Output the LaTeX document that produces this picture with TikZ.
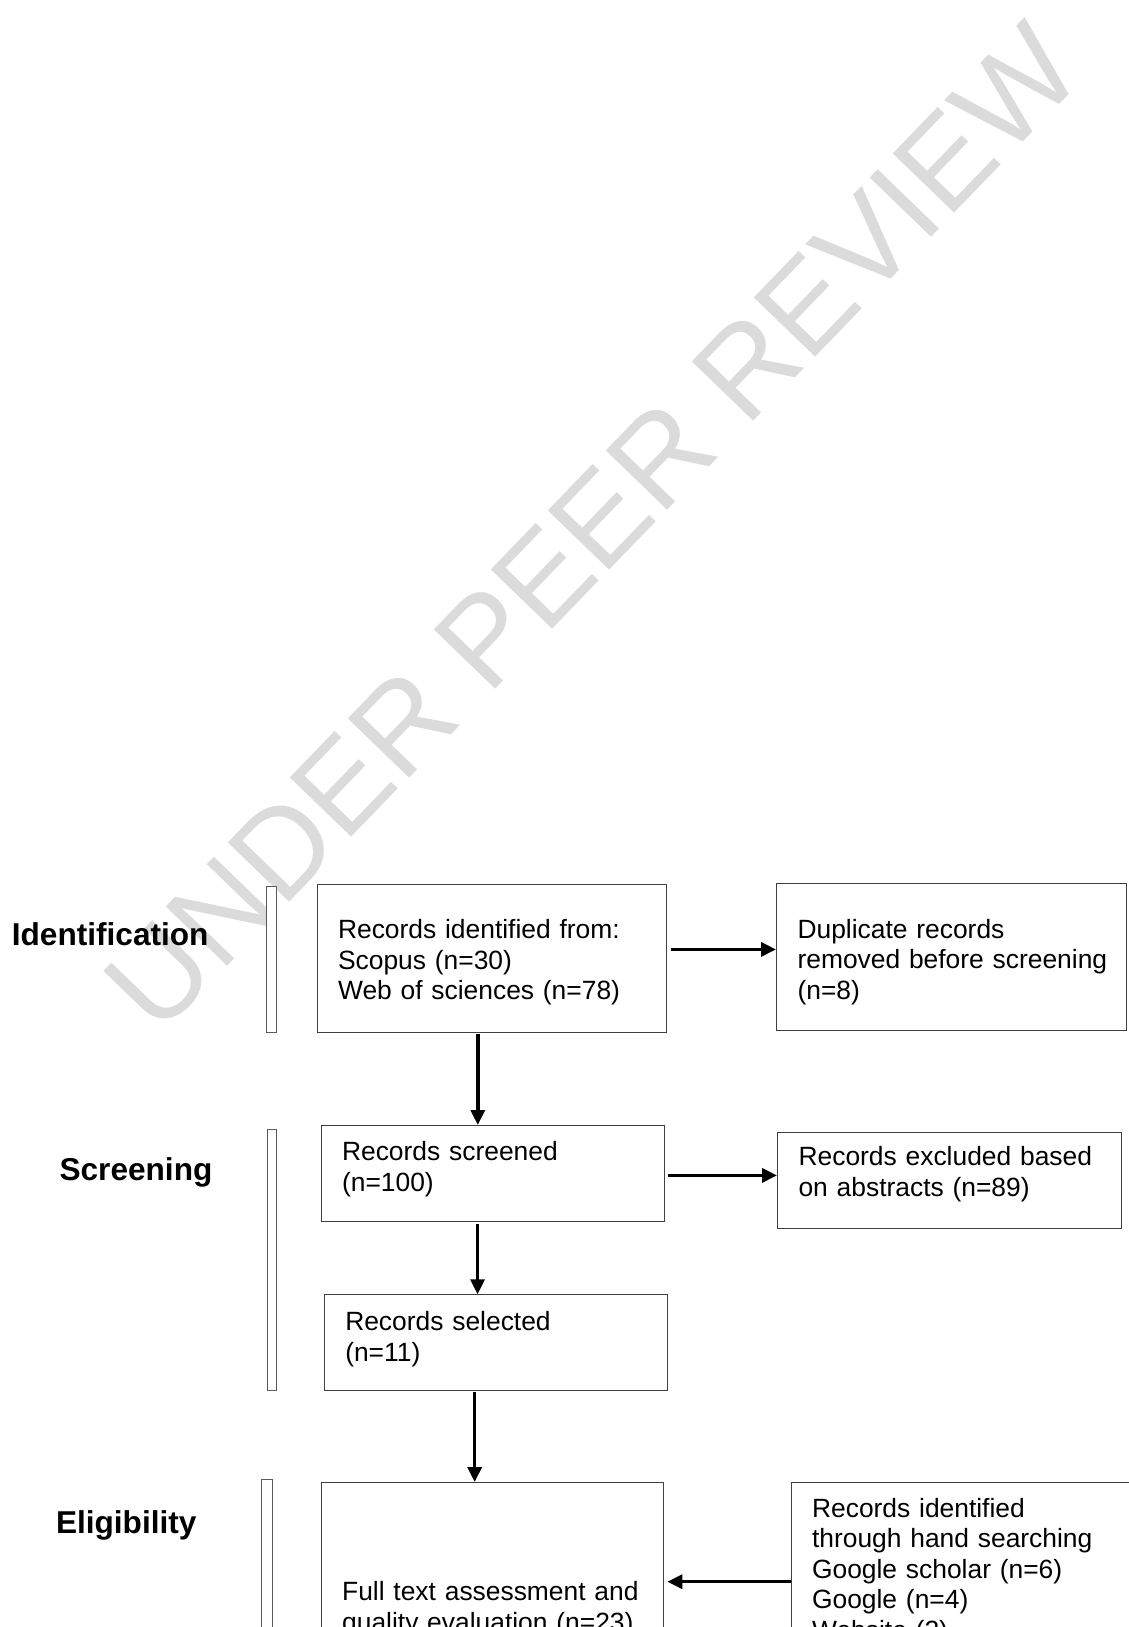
\documentclass[tikz,border=0pt]{standalone}
\usepackage{fontspec}
\setmainfont{Liberation Sans}
\usetikzlibrary{arrows.meta,calc}
\begin{document}
\begin{tikzpicture}[x=1pt,y=-1pt,
  box/.style={draw=black!75, line width=1.1pt, anchor=north west, align=left,
    inner xsep=21pt, inner ysep=0pt, font=\fontsize{26.4}{30.5}\selectfont},
  bar/.style={draw=black!65, line width=0.9pt, fill=white, anchor=north west,
    inner sep=0pt},
  stage/.style={anchor=base west, inner sep=0pt, font=\fontsize{31.6}{36}\selectfont\bfseries},
  arr/.style={line width=3.4pt, -{Triangle[length=15pt,width=14pt]}},
  wm/.style={text=black!14, font=\fontsize{124}{135}\selectfont, inner sep=0pt}
]
\useasboundingbox (0,0) rectangle (1129,1627);
\clip (0,0) rectangle (1129,1627);
% watermark
\node[wm, rotate=46] (wmark) at (592,528) {UNDER PEER REVIEW};

% stage labels
\node[stage] (lid) at (11.7,945) {Identification};
\node[stage] (lsc) at (59.4,1180) {Screening};
\node[stage] (lel) at (55.8,1533) {Eligibility};

% side bars
\node[bar, minimum width=10pt, minimum height=145.7pt] (bar1) at (265.7,886) {};
\node[bar, minimum width=9pt, minimum height=260.7pt] (bar2) at (266.5,1129.3) {};
\node[bar, minimum width=11pt, minimum height=200pt] (bar3) at (261,1479) {};

% boxes
\node[box, text width=307.5pt, text height=54.3pt, text depth=93.4pt] (A) at (316.5,884)
  {Records identified from:\\Scopus (n=30)\\Web of sciences (n=78)};
\node[box, text width=307.5pt, text height=54.2pt, text depth=92.5pt] (B) at (776,883.3)
  {Duplicate records\\\mbox{removed before screening}\\(n=8)};
\node[box, text width=301pt, text height=35pt, text depth=60.7pt] (C) at (320.5,1125)
  {Records screened\\(n=100)};
\node[box, text width=302pt, text height=32.7pt, text depth=62.7pt] (D) at (777,1132.3)
  {Records excluded based\\on abstracts (n=89)};
\node[box, text width=300.8pt, text height=35.7pt, text depth=60pt] (E) at (323.7,1294.3)
  {Records selected\\(n=11)};
\node[box, text width=300.7pt, text height=118pt, text depth=132pt] (F) at (320.6,1482)
  {Full text assessment and\\quality evaluation (n=23)};
\node[box, text width=330pt, text height=34.7pt, text depth=165pt] (G) at (790.5,1482)
  {Records identified\\through hand searching\\Google scholar (n=6)\\Google (n=4)\\Website (2)};

% connectors
\coordinate (ab) at ([xshift=4pt,yshift=9pt]A.east);
\draw[arr] (ab) -- (ab -| B.west);
\coordinate (ac) at ([xshift=-14pt,yshift=-1pt]A.south);
\draw[arr] (ac) -- (ac |- C.north);
\coordinate (cd) at ([xshift=3pt,yshift=-2pt]C.east);
\draw[arr] (cd) -- (cd -| D.west);
\coordinate (ce) at ([xshift=-15pt,yshift=-2pt]C.south);
\draw[arr] (ce) -- (ce |- E.north);
\coordinate (ef) at ([xshift=-21pt,yshift=-1pt]E.south);
\draw[arr] (ef) -- (ef |- F.north);
\coordinate (gf) at (G.west |- 0,1581.7);
\draw[arr] (gf) -- ([xshift=3pt]gf -| F.east);
\end{tikzpicture}
\end{document}
